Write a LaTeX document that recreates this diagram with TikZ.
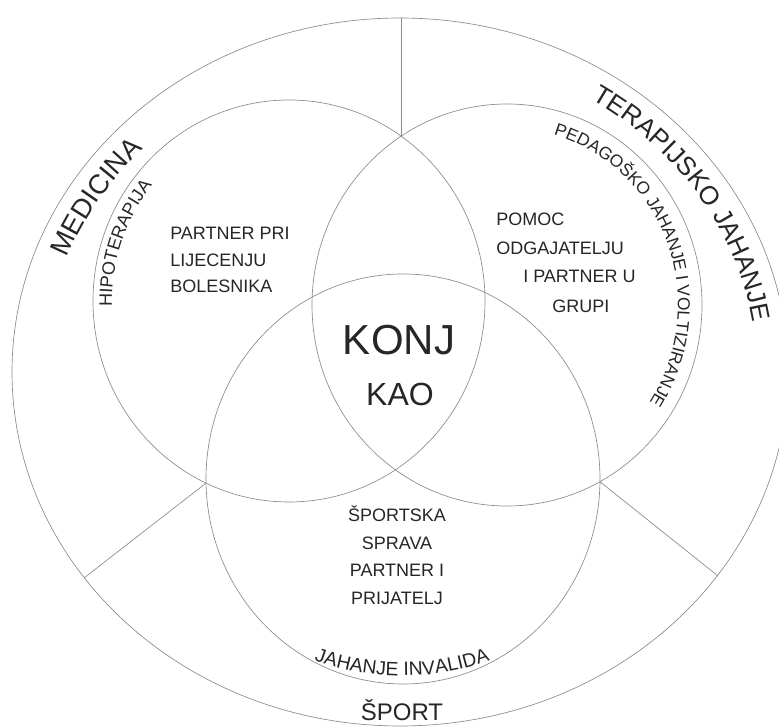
\documentclass[tikz,border=0pt]{standalone}
\usepackage{fontspec}
\setmainfont{Liberation Sans}
\usetikzlibrary{decorations.text,intersections}
\definecolor{linegray}{gray}{0.55}
\definecolor{txt}{gray}{0.15}
\begin{document}
\begin{tikzpicture}[x=0.75pt,y=0.75pt,
  ring/.style={draw=linegray, line width=0.5pt},
  lbl/.style={inner sep=0pt, text=txt, font=\fontsize{13.5}{16}\selectfont},
  curved/.style 2 args={decorate, decoration={text along path,
      text={|\fontsize{#1}{#1}\selectfont\color{txt}|#2}, text align=center}}]
\fill[white] (0,0) rectangle (779,727);
\useasboundingbox (0,0) rectangle (779,727);

% centres
\coordinate (oc) at (400,355);
\coordinate (tlc) at (289,426);
\coordinate (trc) at (507,422);
\coordinate (bc) at (403,248);
\coordinate (jic) at (402,313);

% circles
\draw[ring] (oc) ellipse[x radius=291pt, y radius=265.5pt];
\draw[ring, name path=tl] (tlc) ellipse[x radius=147pt, y radius=150.75pt];
\draw[ring, name path=tr] (trc) ellipse[x radius=146.25pt, y radius=150.75pt];
\draw[ring, name path=b] (bc) ellipse[x radius=147.75pt, y radius=153.75pt];

% quarter arcs for junctions
\path[name path=tlne] (tlc) ++(0:196 and 201) arc[start angle=0, end angle=90, x radius=147pt, y radius=150.75pt];
\path[name path=tlsw] (tlc) ++(180:196 and 201) arc[start angle=180, end angle=270, x radius=147pt, y radius=150.75pt];
\path[name path=trse] (trc) ++(270:195 and 201) arc[start angle=270, end angle=360, x radius=146.25pt, y radius=150.75pt];
\path[name intersections={of=tlne and tr, by=jt}];
\path[name intersections={of=tlsw and b, by=jl}];
\path[name intersections={of=trse and b, by=jr}];

\coordinate (otop) at (400,709);
\coordinate (oL) at (84,149);
\coordinate (oR) at (718,151);
\draw[ring] (jt) -- (jt |- otop);
\draw[ring] (jl) -- (oL);
\draw[ring] (jr) -- (oR);

% curved labels
\path[curved={20.5}{MEDICINA}] (oc) ++(170:356 and 322) arc[start angle=170, end angle=126, x radius=267pt, y radius=241.5pt];
\path[curved={19.5}{TERAPIJSKO JAHANJE}] (oc) ++(63:357 and 323) arc[start angle=63, end angle=3, x radius=267.75pt, y radius=242.25pt];
\path[curved={13.5}{HIPOTERAPIJA}] (tlc) ++(193:177 and 182) arc[start angle=193, end angle=129, x radius=132.75pt, y radius=136.5pt];
\path[curved={13}{PEDAGOŠKO JAHANJE I VOLTIZIRANJE}] (trc) ++(95:171 and 177) arc[start angle=95, end angle=-54, x radius=128.25pt, y radius=132.75pt];
\path[curved={14.5}{JAHANJE INVALIDA}] (jic) ++(235:262) arc[start angle=235, end angle=305, radius=196.5pt];

% straight labels
\node[lbl, anchor=base west] (pa1) at (170,487) {PARTNER PRI};
\node[lbl, anchor=base west] (pa2) at (170,460) {LIJECENJU};
\node[lbl, anchor=base west] (pa3) at (170,434) {BOLESNIKA};

\node[lbl, anchor=base west] (po1) at (496,501) {POMOC};
\node[lbl, anchor=base west] (po2) at (496,472) {ODGAJATELJU};
\node[lbl, anchor=base west] (po3) at (523,444) {I PARTNER U};
\node[lbl, anchor=base west] (po4) at (552,414) {GRUPI};

\node[lbl, anchor=base, font=\fontsize{31.5}{36}\selectfont] (konj) at (399,372) {KONJ};
\node[lbl, anchor=base, font=\fontsize{24}{28}\selectfont] (kao) at (400,321) {KAO};

\node[lbl, anchor=base] (sp1) at (397,205) {ŠPORTSKA};
\node[lbl, anchor=base] (sp2) at (397,177) {SPRAVA};
\node[lbl, anchor=base] (sp3) at (397,150) {PARTNER I};
\node[lbl, anchor=base] (sp4) at (397,122) {PRIJATELJ};

\node[lbl, anchor=base, font=\fontsize{18}{22}\selectfont] (sport) at (402,6) {ŠPORT};
\end{tikzpicture}
\end{document}
